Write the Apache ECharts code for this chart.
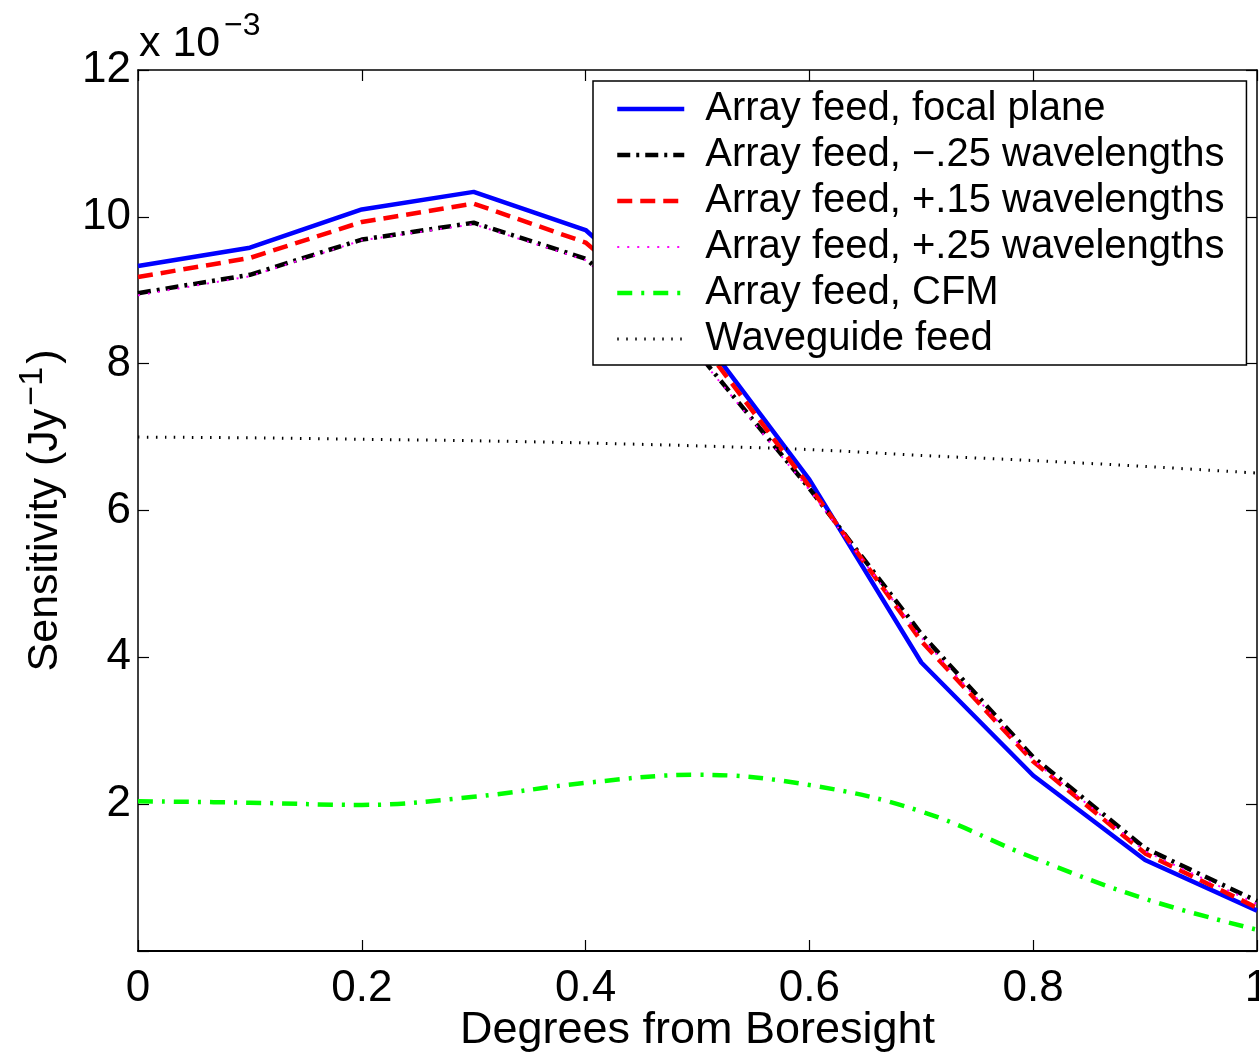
<!DOCTYPE html>
<html>
<head>
<meta charset="utf-8">
<script src="https://cdn.jsdelivr.net/npm/echarts@6/dist/echarts.min.js"></script>
<style>
  html, body { margin: 0; padding: 0; background: #fff; overflow: hidden; }
  #chart { width: 1259px; height: 1055px; }
</style>
</head>
<body>
<div id="chart"></div>
<script>
// degrees from boresight
var degrees = [0, 0.1, 0.2, 0.3, 0.4, 0.5, 0.6, 0.7, 0.8, 0.9, 1.0]
// sensitivity, in units of 1e-3 Jy^-1
var focalPlane = [9.33, 9.58, 10.10, 10.34, 9.82, 8.45, 6.42, 3.93, 2.39, 1.24, 0.55]
var minus25 = [8.96, 9.21, 9.69, 9.92, 9.43, 8.15, 6.30, 4.32, 2.64, 1.40, 0.68]
var plus15 = [9.18, 9.44, 9.93, 10.18, 9.65, 8.35, 6.33, 4.22, 2.58, 1.33, 0.59]
var plus25 = [8.93, 9.19, 9.68, 9.90, 9.41, 8.12, 6.28, 4.27, 2.60, 1.36, 0.64]
var cfm = [2.04, 2.02, 1.99, 2.10, 2.29, 2.40, 2.26, 1.90, 1.27, 0.71, 0.29]
var waveguide = [7.00, 6.99, 6.97, 6.95, 6.92, 6.88, 6.83, 6.75, 6.68, 6.60, 6.51]
var yTicks = [0, 2, 4, 6, 8, 10, 12]

var names = [
  'Array feed, focal plane',
  'Array feed, \u2212.25 wavelengths',
  'Array feed, +.15 wavelengths',
  'Array feed, +.25 wavelengths',
  'Array feed, CFM',
  'Waveguide feed'
]
var widths = [4.5, 4.5, 4.5, 2, 4.5, 3]

function pairs (vals) {
  return degrees.map(function (x, i) { return [x, vals[i]] })
}

function makeLine (i, vals, color, type, smooth) {
  return {
    name: names[i],
    type: 'line',
    data: pairs(vals),
    symbol: 'none',
    showSymbol: false,
    smooth: smooth || false,
    lineStyle: { color: color, width: widths[i], type: type },
    itemStyle: { color: color }
  }
}

var chart = echarts.init(document.getElementById('chart'))
var font = 'Liberation Sans, Arial, Helvetica, sans-serif'

var option = {
  animation: false,
  backgroundColor: '#fff',
  textStyle: { fontFamily: font, color: '#000' },
  graphic: [
    {
      type: 'text', left: 139, top: 23, z: 10,
      style: { text: 'x 10', font: '43px ' + font, fill: '#000' }
    },
    {
      type: 'text', left: 224, top: 10, z: 10,
      style: { text: '\u22123', font: '32px ' + font, fill: '#000' }
    }
  ],
  grid: {
    left: 138, right: 2, top: 70, bottom: 104,
    containLabel: false,
    outerBoundsMode: 'none'
  },
  legend: {
    orient: 'vertical',
    left: 593,
    top: 81,
    padding: [5, 22, 3, 22],
    itemGap: 0,
    itemWidth: 67,
    itemHeight: 14,
    backgroundColor: '#fff',
    borderColor: '#000',
    borderWidth: 1.5,
    borderRadius: 0,
    itemStyle: { opacity: 0 },
    data: names.map(function (n, i) {
      return { name: n, lineStyle: { width: widths[i] } }
    }),
    textStyle: {
      fontFamily: font,
      fontSize: 40,
      lineHeight: 46,
      color: '#000',
      padding: [0, 0, 0, 16]
    }
  },
  xAxis: [
    {
      type: 'value',
      min: 0,
      max: 1,
      interval: 0.2,
      name: 'Degrees from Boresight',
      nameLocation: 'middle',
      nameGap: 57,
      nameMoveOverlap: false,
      nameTextStyle: { fontFamily: font, fontSize: 45, color: '#000' },
      axisLine: { show: true, onZero: false, lineStyle: { color: '#000', width: 2 } },
      axisTick: { show: true, inside: true, length: 11, lineStyle: { color: '#000', width: 1.2 } },
      axisLabel: { fontFamily: font, fontSize: 44, color: '#000', margin: 16 },
      splitLine: { show: false }
    },
    {
      type: 'value',
      position: 'top',
      min: 0,
      max: 1,
      interval: 0.2,
      axisLine: { show: true, onZero: false, lineStyle: { color: '#000', width: 1.5 } },
      axisTick: { show: true, inside: true, length: 11, lineStyle: { color: '#000', width: 1.2 } },
      axisLabel: { show: false },
      splitLine: { show: false }
    }
  ],
  yAxis: [
    {
      type: 'value',
      min: yTicks[0],
      max: yTicks[yTicks.length - 1],
      interval: 2,
      name: 'Sensitivity (Jy{sup|\u22121})',
      nameLocation: 'middle',
      nameGap: 64,
      nameMoveOverlap: false,
      nameTextStyle: {
        fontFamily: font,
        fontSize: 43,
        color: '#000',
        rich: {
          sup: { fontFamily: font, fontSize: 34, color: '#000', padding: [0, 3, 24, 3] }
        }
      },
      axisLine: { show: true, onZero: false, lineStyle: { color: '#000', width: 1.5 } },
      axisTick: { show: true, inside: true, length: 11, lineStyle: { color: '#000', width: 1.2 } },
      axisLabel: {
        fontFamily: font,
        fontSize: 44,
        color: '#000',
        margin: 7,
        formatter: function (v) { return v === 0 ? '' : String(v) }
      },
      splitLine: { show: false }
    },
    {
      type: 'value',
      position: 'right',
      min: yTicks[0],
      max: yTicks[yTicks.length - 1],
      interval: 2,
      axisLine: { show: true, onZero: false, lineStyle: { color: '#000', width: 1.5 } },
      axisTick: { show: true, inside: true, length: 11, lineStyle: { color: '#000', width: 1.2 } },
      axisLabel: { show: false },
      splitLine: { show: false }
    }
  ],
  series: [
    makeLine(0, focalPlane, '#0000ff', 'solid'),
    makeLine(1, minus25, '#000000', [13, 6, 3, 6]),
    makeLine(2, plus15, '#ff0000', [15, 8]),
    makeLine(3, plus25, '#ff00ff', [2, 8]),
    makeLine(4, cfm, '#00ff00', [15, 9, 3, 9], 0.4),
    makeLine(5, waveguide, '#000000', [1.5, 7.5], 0.3)
  ]
}

chart.setOption(option)
</script>
</body>
</html>
